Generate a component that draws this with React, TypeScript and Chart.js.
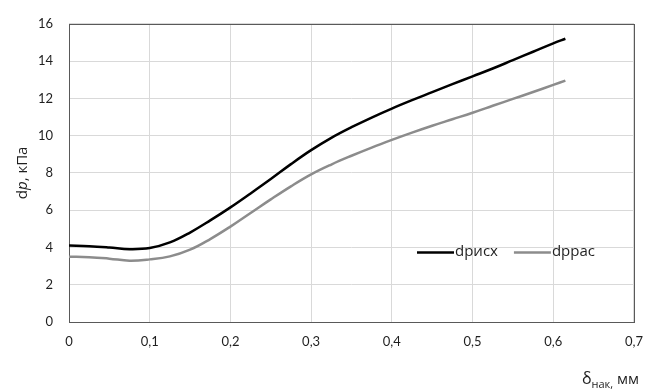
import { useEffect, useRef } from "react";
import { Chart, registerables } from "chart.js";

Chart.register(...registerables);

const deltaMm = [
  0, 0.025, 0.05, 0.075, 0.1, 0.125, 0.15, 0.175, 0.2, 0.225, 0.25, 0.275, 0.3, 0.325, 0.35, 0.375, 0.4,
  0.425, 0.45, 0.475, 0.5, 0.525, 0.55, 0.575, 0.6, 0.615,
];
const dpIsh = [
  4.1, 4.07, 4.0, 3.91, 3.97, 4.27, 4.8, 5.45, 6.15, 6.9, 7.67, 8.47, 9.22, 9.88, 10.45, 10.97, 11.45,
  11.9, 12.33, 12.76, 13.18, 13.6, 14.05, 14.5, 14.95, 15.2,
];
const dpRas = [
  3.5, 3.48, 3.4, 3.29, 3.36, 3.52, 3.88, 4.45, 5.12, 5.85, 6.58, 7.28, 7.92, 8.45, 8.92, 9.36, 9.77,
  10.16, 10.53, 10.88, 11.23, 11.6, 11.97, 12.34, 12.72, 12.95,
];
const seriesLabels = ["dpисх", "dpрас"];
const seriesColors = ["#000000", "#8c8c8c"];
const yTitleParts = [
  { t: "d", italic: false },
  { t: "p", italic: true },
  { t: ", кПа", italic: false },
];
const xTitleMain = "δ";
const xTitleSub = "нак,";
const xTitleUnit = " мм";

const TEXT = "#1f1f1f";
const FONT = "'Open Sans', sans-serif";

const decorPlugin = {
  id: "decor",
  beforeDatasetsDraw(chart: any) {
    const { ctx, chartArea: a } = chart;
    ctx.save();
    ctx.strokeStyle = "#595959";
    ctx.lineWidth = 1;
    ctx.strokeRect(Math.round(a.left) + 0.5, Math.round(a.top) + 0.5, Math.round(a.right - a.left), Math.round(a.bottom - a.top));
    ctx.restore();
  },
  afterDraw(chart: any) {
    const { ctx, chartArea: a } = chart;
    ctx.save();
    ctx.fillStyle = TEXT;
    ctx.textBaseline = "middle";
    const fs = 15;
    const fonts = yTitleParts.map((p) => `${p.italic ? "italic " : ""}${fs}px ${FONT}`);
    let total = 0;
    const widths = yTitleParts.map((p, i) => {
      ctx.font = fonts[i];
      const w = ctx.measureText(p.t).width;
      total += w;
      return w;
    });
    ctx.save();
    ctx.translate(23, (a.top + a.bottom) / 2);
    ctx.rotate(-Math.PI / 2);
    ctx.textAlign = "left";
    let x = -total / 2;
    yTitleParts.forEach((p, i) => {
      ctx.font = fonts[i];
      ctx.fillText(p.t, x, 0);
      x += widths[i];
    });
    ctx.restore();

    ctx.textAlign = "left";
    ctx.textBaseline = "alphabetic";
    const mainFont = `16px ${FONT}`;
    const subFont = `11px ${FONT}`;
    const unitFont = `15px ${FONT}`;
    ctx.font = mainFont;
    const w1 = ctx.measureText(xTitleMain).width;
    ctx.font = subFont;
    const w2 = ctx.measureText(xTitleSub).width;
    ctx.font = unitFont;
    const w3 = ctx.measureText(xTitleUnit).width;
    const right = 639;
    let xx = right - (w1 + w2 + w3);
    const base = 384;
    ctx.font = mainFont;
    ctx.fillText(xTitleMain, xx, base);
    xx += w1;
    ctx.font = subFont;
    ctx.fillText(xTitleSub, xx, base + 4);
    xx += w2;
    ctx.font = unitFont;
    ctx.fillText(xTitleUnit, xx, base);

    const ly = 252.5;
    let lx = 417;
    ctx.textBaseline = "middle";
    ctx.font = `15px ${FONT}`;
    chart.data.datasets.forEach((ds: any) => {
      ctx.strokeStyle = ds.borderColor;
      ctx.lineWidth = 2.5;
      ctx.beginPath();
      ctx.moveTo(lx, ly);
      ctx.lineTo(lx + 37, ly);
      ctx.stroke();
      ctx.fillStyle = TEXT;
      ctx.fillText(ds.label, lx + 38, ly - 1);
      lx += 38 + ctx.measureText(ds.label).width + 16;
    });
    ctx.restore();
  },
};

export default function App() {
  const ref = useRef<HTMLCanvasElement>(null);
  useEffect(() => {
    if (!ref.current) return;
    const chart = new Chart(ref.current, {
      type: "line",
      data: {
        datasets: [dpIsh, dpRas].map((vals, i) => ({
          label: seriesLabels[i],
          data: deltaMm.map((x, j) => ({ x, y: vals[j] })),
          borderColor: seriesColors[i],
          backgroundColor: seriesColors[i],
          borderWidth: 2.5,
          pointRadius: 0,
          tension: 0.4,
          fill: false,
        })),
      },
      options: {
        responsive: false,
        animation: false,
        layout: { padding: { top: 20, right: 17, left: 0, bottom: 0 } },
        plugins: { legend: { display: false }, tooltip: { enabled: false }, title: { display: false } },
        scales: {
          x: {
            type: "linear",
            min: 0,
            max: 0.7,
            afterFit: (s: any) => {
              s.height = 67;
            },
            border: { display: false },
            grid: { color: "#d9d9d9", drawTicks: false },
            ticks: {
              stepSize: 0.1,
              padding: 12,
              color: TEXT,
              font: { family: "Lato", size: 13 },
              callback: (v: any) => (Number(v) === 0 ? "0" : Number(v).toFixed(1).replace(".", ",")),
            },
          },
          y: {
            min: 0,
            max: 16,
            afterFit: (s: any) => {
              s.width = 69;
            },
            border: { display: false },
            grid: { color: "#d9d9d9", drawTicks: false },
            ticks: {
              stepSize: 2,
              padding: 16,
              color: TEXT,
              font: { family: "Lato", size: 13 },
            },
          },
        },
      },
      plugins: [decorPlugin],
    });
    return () => chart.destroy();
  }, []);
  return (
    <div style={{ position: "absolute", left: 0, top: 0, width: 655, height: 389 }}>
      <canvas ref={ref} width={655} height={389} style={{ display: "block" }} />
    </div>
  );
}
